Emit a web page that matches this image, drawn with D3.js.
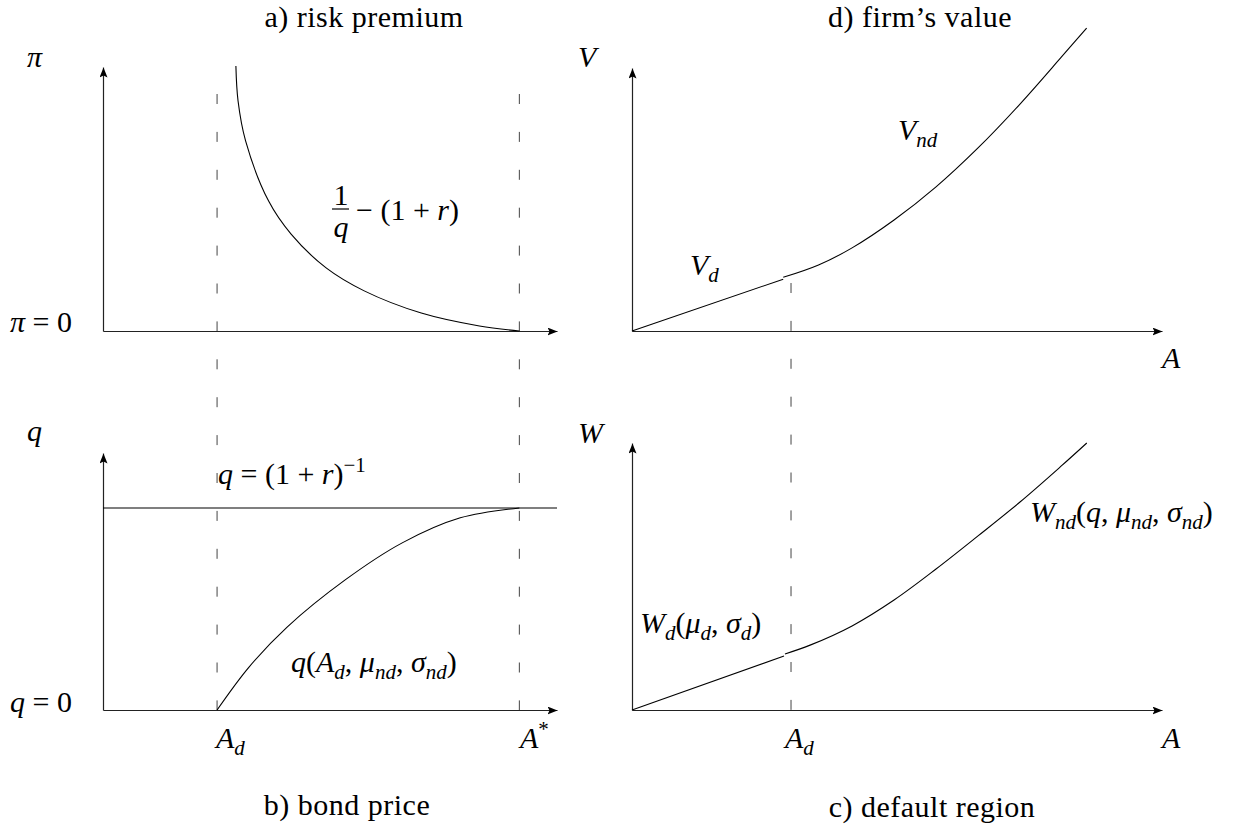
<!DOCTYPE html>
<html>
<head>
<meta charset="utf-8">
<style>
  body { margin: 0; background: #fff; }
  .axis path { stroke: #222; stroke-width: 1.2; fill: none; }
  .curve { fill: none; stroke: #000; stroke-width: 1.1; }
  .guide { stroke: #444; stroke-width: 1; stroke-dasharray: 10 27.9; }
</style>
</head>
<body>
<svg id="chart" width="1257" height="832"></svg>
<script src="https://d3js.org/d3.v7.min.js"></script>
<script>
// key points on the asset axis
const Ad = 1.0, Astar = 3.65;
const qBar = 0.96;

// a) risk premium
const riskA  = [1.165, 1.184, 1.25, 1.452, 1.649, 1.956, 2.29, 2.79, 3.30, 3.65];
const riskPi = [1.004, 0.871, 0.72, 0.492, 0.367, 0.239, 0.152, 0.068, 0.019, 0.0];

// b) bond price
const bondA = [1.0, 1.28, 1.614, 2.123, 2.623, 3.132, 3.65];
const bondQ = [0.0, 0.204, 0.394, 0.618, 0.794, 0.913, 0.96];

// d) firm's value (default part, then no-default part)
const valueDA  = [0, 0.951];
const valueDV  = [0, 0.197];
const valueNdA = [0.951, 1.173, 1.384, 1.648, 1.912, 2.176, 2.44, 2.701, 2.859];
const valueNdV = [0.204, 0.251, 0.316, 0.422, 0.548, 0.696, 0.863, 1.042, 1.152];

// c) default region
const welfDA  = [0, 0.956];
const welfDW  = [0, 0.202];
const welfNdA = [0.962, 1.12, 1.384, 1.648, 1.912, 2.176, 2.44, 2.70, 2.86];
const welfNdW = [0.21, 0.243, 0.315, 0.412, 0.528, 0.652, 0.779, 0.914, 1.0];

const FONT = "'Liberation Serif', 'Times New Roman', Tinos, 'DejaVu Serif', serif";

const svg = d3.select("#chart");
svg.append("rect").attr("width", 1257).attr("height", 832).attr("fill", "#fff");

svg.append("defs").append("marker")
    .attr("id", "arrow")
    .attr("viewBox", "0 0 10 8")
    .attr("refX", 10).attr("refY", 4)
    .attr("markerWidth", 10).attr("markerHeight", 8)
    .attr("markerUnits", "userSpaceOnUse")
    .attr("orient", "auto")
  .append("path")
    .attr("d", "M0,0 L10,4 L0,8 L2,4 Z")
    .attr("fill", "#000");

// scales
let xLeft  = d3.scaleLinear().domain([0, 3.98]).range([103, 557]);
let yRisk  = d3.scaleLinear().domain([0, 1]).range([331, 67]);
let yBond  = d3.scaleLinear().domain([0, 1.221]).range([710, 453]);
let xRight = d3.scaleLinear().domain([0, 3.333]).range([632, 1162]);
let yValue = d3.scaleLinear().domain([0, 1]).range([331, 68]);
let yWelf  = d3.scaleLinear().domain([0, 1]).range([710, 443]);

function drawAxes(x, y, x0, y0) {
    let gx = svg.append("g").attr("class", "axis")
        .attr("transform", "translate(0," + y0 + ")")
        .call(d3.axisBottom(x).tickValues([]).tickSizeOuter(0));
    gx.select(".domain").attr("marker-end", "url(#arrow)");
    let gy = svg.append("g").attr("class", "axis")
        .attr("transform", "translate(" + x0 + ",0)")
        .call(d3.axisLeft(y).tickValues([]).tickSizeOuter(0));
    gy.select(".domain").attr("marker-end", "url(#arrow)");
}

function drawCurve(x, y, xs, ys) {
    let line = d3.line().x(d => x(d[0])).y(d => y(d[1])).curve(d3.curveCatmullRom.alpha(0.5));
    svg.append("path").attr("class", "curve").attr("d", line(d3.zip(xs, ys)));
}

// dashed guides first so that curves sit on top
svg.append("line").attr("class", "guide")
    .attr("x1", xLeft(Ad)).attr("x2", xLeft(Ad)).attr("y1", 94).attr("y2", 710);
svg.append("line").attr("class", "guide")
    .attr("x1", xLeft(Astar)).attr("x2", xLeft(Astar)).attr("y1", 94).attr("y2", 710);
svg.append("line").attr("class", "guide")
    .attr("x1", xRight(Ad)).attr("x2", xRight(Ad)).attr("y1", 283).attr("y2", 710);

drawAxes(xLeft, yRisk, 103, 331);
drawAxes(xLeft, yBond, 103, 710);
drawAxes(xRight, yValue, 632, 331);
drawAxes(xRight, yWelf, 632, 710);

drawCurve(xLeft, yRisk, riskA, riskPi);
svg.append("line").attr("class", "curve")
    .attr("x1", xLeft(0)).attr("x2", 557)
    .attr("y1", yBond(qBar)).attr("y2", yBond(qBar));
drawCurve(xLeft, yBond, bondA, bondQ);
drawCurve(xRight, yValue, valueDA, valueDV);
drawCurve(xRight, yValue, valueNdA, valueNdV);
drawCurve(xRight, yWelf, welfDA, welfDW);
drawCurve(xRight, yWelf, welfNdA, welfNdW);

// text with italic math, subscripts and superscripts
// styles: r roman, i italic, sr/si subscript, pr superscript
function label(x, y, parts, anchor, spacing) {
    let t = svg.append("text").attr("x", x).attr("y", y)
        .attr("text-anchor", anchor || "start")
        .style("font-family", FONT)
        .style("font-size", "30px")
        .style("fill", "#000");
    if (spacing) t.style("letter-spacing", spacing + "px");
    let shift = 0;
    parts.forEach(p => {
        let s = t.append("tspan").text(p[0]);
        let st = p[1] || "r";
        let target = 0;
        if (st === "si" || st === "sr") { target = 7; s.style("font-size", "21px"); }
        if (st === "pr") { target = -12; s.style("font-size", "21px"); }
        if (st === "i" || st === "si") s.style("font-style", "italic");
        if (target !== shift) s.attr("dy", target - shift);
        shift = target;
    });
    return t;
}

// titles
label(364, 27, [["a) risk premium"]], "middle", 0.5);
label(347, 815, [["b) bond price"]], "middle", 0.5);
label(920, 27, [["d) firm\u2019s value"]], "middle", 0.5);
label(932, 817, [["c) default region"]], "middle", 0.5);

// panel a
label(27, 67, [["\u03c0", "i"]]);
label(10, 332, [["\u03c0", "i"], [" = 0"]]);
label(341, 205, [["1"]], "middle");
svg.append("line").attr("x1", 332).attr("x2", 349).attr("y1", 209).attr("y2", 209)
    .attr("stroke", "#000").attr("stroke-width", 1.2);
label(341, 237, [["q", "i"]], "middle");
label(356, 220, [["\u2212 (1 + "], ["r", "i"], [")"]]);

// panel b
label(27, 441, [["q", "i"]]);
label(10, 712, [["q", "i"], [" = 0"]]);
label(218, 484, [["q", "i"], [" = (1 + "], ["r", "i"], [")"], ["\u22121", "pr"]]);
label(291, 672, [["q", "i"], ["("], ["A", "i"], ["d", "si"], [", "], ["\u03bc", "i"], ["nd", "si"],
    [", "], ["\u03c3", "i"], ["nd", "si"], [")"]]);
label(216, 748, [["A", "i"], ["d", "si"]]);
label(520, 748, [["A", "i"], ["*", "pr"]]);

// panel d
label(578, 67, [["V", "i"]]);
label(898, 140, [["V", "i"], ["nd", "si"]]);
label(690, 275, [["V", "i"], ["d", "si"]]);
label(1162, 368, [["A", "i"]]);

// panel c
label(578, 443, [["W", "i"]]);
label(1030, 522, [["W", "i"], ["nd", "si"], ["("], ["q", "i"], [", "], ["\u03bc", "i"], ["nd", "si"],
    [", "], ["\u03c3", "i"], ["nd", "si"], [")"]]);
label(640, 633, [["W", "i"], ["d", "si"], ["("], ["\u03bc", "i"], ["d", "si"], [", "],
    ["\u03c3", "i"], ["d", "si"], [")"]]);
label(785, 748, [["A", "i"], ["d", "si"]]);
label(1162, 748, [["A", "i"]]);
</script>
</body>
</html>
